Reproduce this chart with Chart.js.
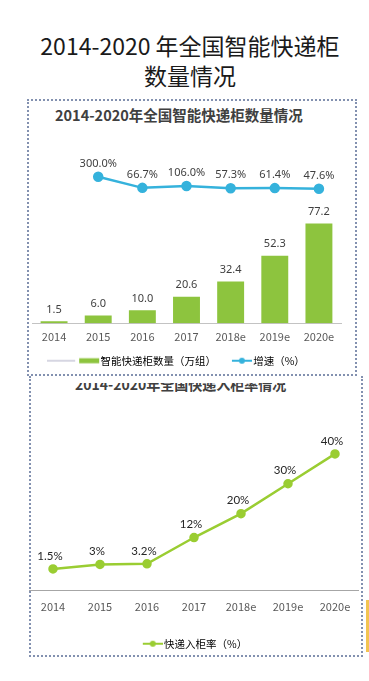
<!DOCTYPE html>
<html>
<head>
<meta charset="utf-8">
<script src="https://cdn.jsdelivr.net/npm/chart.js@4.4.1/dist/chart.umd.min.js"></script>
<style>
  html, body { margin: 0; padding: 0; background: #fff; }
  body {
    position: relative; width: 369px; height: 681px; overflow: hidden;
    font-family: 'Noto Sans CJK SC', 'Noto Sans', sans-serif;
  }
  .title {
    position: absolute; top: 30px; left: 11px; width: 358px;
    text-align: center; font-size: 23px; line-height: 30px; color: #1a1a1a;
  }
  .box { position: absolute; box-sizing: border-box; border: 2px dotted #8391b0; }
  #box1 { left: 27px; top: 99px; width: 330px; height: 277px; }
  #box2 { left: 29px; top: 376px; width: 334px; height: 281px; border-top: none; }
  .sub { position: absolute; font-weight: bold; color: #404040; white-space: nowrap; }
  #sub1 { left: 55px; top: 107px; font-size: 14.5px; line-height: 16px; }
  #clip2 { position: absolute; left: 31px; top: 383px; width: 329px; height: 12px; overflow: hidden; }
  #sub2 { left: 44px; top: -6px; font-size: 14px; line-height: 14px; }
  canvas { position: absolute; }
  #lockers { left: 27px; top: 135px; }
  #rate { left: 29px; top: 395px; }
  .edge { position: absolute; left: 366px; top: 600px; width: 3px; height: 52px; background: #f3c451; }
</style>
</head>
<body>
<div class="title">2014-2020 年全国智能快递柜<br>数量情况</div>
<div class="box" id="box1"></div>
<div class="box" id="box2"></div>
<div class="sub" id="sub1">2014-2020年全国智能快递柜数量情况</div>
<div id="clip2"><div class="sub" id="sub2">2014-2020年全国快递入柜率情况</div></div>
<div class="edge"></div>
<canvas id="lockers" width="330" height="241"></canvas>
<canvas id="rate" width="333" height="264"></canvas>
<script>
const years = ['2014', '2015', '2016', '2017', '2018e', '2019e', '2020e'];
const lockerCount = [1.5, 6.0, 10.0, 20.6, 32.4, 52.3, 77.2];
const lockerGrowth = [null, 300.0, 66.7, 106.0, 57.3, 61.4, 47.6];
const lockerRate = [1.5, 3, 3.2, 12, 20, 30, 40];

const countLabel = '智能快递柜数量（万组）';
const growthLabel = '增速（%）';
const rateLabel = '快递入柜率（%）';

const GREEN = '#8dc43e';
const BLUE = '#35b2dc';
const LIME = '#9acd32';
const CJK = "'Noto Sans CJK SC', 'Noto Sans', sans-serif";
const tickFont = { family: CJK, size: 11 };
const legendFont = { family: CJK, size: 10.5 };

// legend swatches are painted into small canvases and used as point styles
const swatch = (width, height, paint) => {
  const c = document.createElement('canvas');
  c.width = width;
  c.height = height;
  paint(c.getContext('2d'));
  return c;
};

const lineWithDot = (ctx, color, x0, x1, y) => {
  ctx.strokeStyle = color;
  ctx.fillStyle = color;
  ctx.lineWidth = 2;
  ctx.beginPath();
  ctx.moveTo(x0, y);
  ctx.lineTo(x1, y);
  ctx.stroke();
  ctx.beginPath();
  ctx.arc((x0 + x1) / 2, y, 3, 0, Math.PI * 2);
  ctx.fill();
};

const countSwatch = swatch(69, 8, (ctx) => {
  ctx.strokeStyle = '#c9c9d8';
  ctx.lineWidth = 1.5;
  ctx.beginPath();
  ctx.moveTo(0, 4);
  ctx.lineTo(28, 4);
  ctx.stroke();
  ctx.fillStyle = GREEN;
  ctx.fillRect(32, 1.5, 20, 5);
});
const growthSwatch = swatch(35, 8, (ctx) => lineWithDot(ctx, BLUE, 15, 35, 4));
const rateSwatch = swatch(26, 8, (ctx) => lineWithDot(ctx, LIME, 6, 26, 4));

// value labels above bars and points
const valueLabels = {
  id: 'valueLabels',
  afterDatasetsDraw(chart, args, opts) {
    const { ctx } = chart;
    ctx.save();
    ctx.font = opts.font;
    ctx.fillStyle = opts.color;
    ctx.textAlign = 'center';
    ctx.textBaseline = 'middle';
    chart.data.datasets.forEach((ds, i) => {
      chart.getDatasetMeta(i).data.forEach((el, j) => {
        const v = ds.data[j];
        if (v === null) return;
        ctx.fillText(ds.labelText(v), el.x + ds.labelDx, el.y - ds.labelDy);
      });
    });
    ctx.restore();
  },
};

const legendItem = (text, pointStyle) => ({
  text, pointStyle, fillStyle: 'transparent', strokeStyle: 'transparent', lineWidth: 0, hidden: false,
});

new Chart(document.getElementById('lockers'), {
  type: 'bar',
  data: {
    labels: years,
    datasets: [
      {
        type: 'line',
        label: growthLabel,
        data: lockerGrowth,
        yAxisID: 'yGrowth',
        borderColor: BLUE,
        backgroundColor: BLUE,
        borderWidth: 2.5,
        pointRadius: 4,
        labelText: (v) => `${v.toFixed(1)}%`,
        labelDx: 0,
        labelDy: 13,
      },
      {
        label: countLabel,
        data: lockerCount,
        yAxisID: 'y',
        backgroundColor: GREEN,
        barPercentage: 0.61,
        categoryPercentage: 1,
        labelText: (v) => v.toFixed(1),
        labelDx: 0,
        labelDy: 12,
      },
    ],
  },
  options: {
    responsive: false,
    animation: false,
    devicePixelRatio: 1,
    layout: { autoPadding: false, padding: { left: 5, right: 16, top: 15, bottom: 0 } },
    scales: {
      x: {
        grid: { display: false, drawTicks: false },
        border: { color: '#c3c3c3' },
        ticks: { color: '#595959', font: tickFont, padding: 7 },
      },
      y: { type: 'linear', display: false, min: 0, max: 134 },
      yGrowth: { type: 'linear', display: false, min: -2780, max: 862 },
    },
    plugins: {
      tooltip: { enabled: false },
      valueLabels: { font: "11px 'Noto Sans', sans-serif", color: '#404040' },
      legend: {
        position: 'bottom',
        align: 'center',
        labels: {
          usePointStyle: true,
          pointStyleWidth: 27,
          padding: 5,
          color: '#595959',
          font: legendFont,
          generateLabels: () => [
            legendItem(countLabel, countSwatch),
            legendItem(growthLabel, growthSwatch),
          ],
        },
      },
    },
  },
  plugins: [valueLabels],
});

new Chart(document.getElementById('rate'), {
  type: 'line',
  data: {
    labels: years,
    datasets: [
      {
        label: rateLabel,
        data: lockerRate,
        borderColor: LIME,
        backgroundColor: LIME,
        borderWidth: 2.5,
        pointRadius: 3.5,
        labelText: (v) => `${v}%`,
        labelDx: -3,
        labelDy: 13,
      },
    ],
  },
  options: {
    responsive: false,
    animation: false,
    devicePixelRatio: 1,
    layout: { autoPadding: false, padding: { left: 0.5, right: 3.5, top: 35, bottom: 0 } },
    scales: {
      x: {
        offset: true,
        grid: { display: false, drawTicks: false },
        border: { color: '#a6a6a6' },
        ticks: { color: '#595959', font: tickFont, padding: 9.3 },
      },
      y: { display: false, min: -5.8, max: 48 },
    },
    plugins: {
      tooltip: { enabled: false },
      valueLabels: { font: "11.5px Lato, 'Noto Sans', sans-serif", color: '#262626' },
      legend: {
        position: 'bottom',
        labels: {
          usePointStyle: true,
          pointStyleWidth: 18,
          padding: 16,
          color: '#595959',
          font: legendFont,
          generateLabels: () => [legendItem(rateLabel, rateSwatch)],
        },
      },
    },
  },
  plugins: [valueLabels],
});
</script>
</body>
</html>
